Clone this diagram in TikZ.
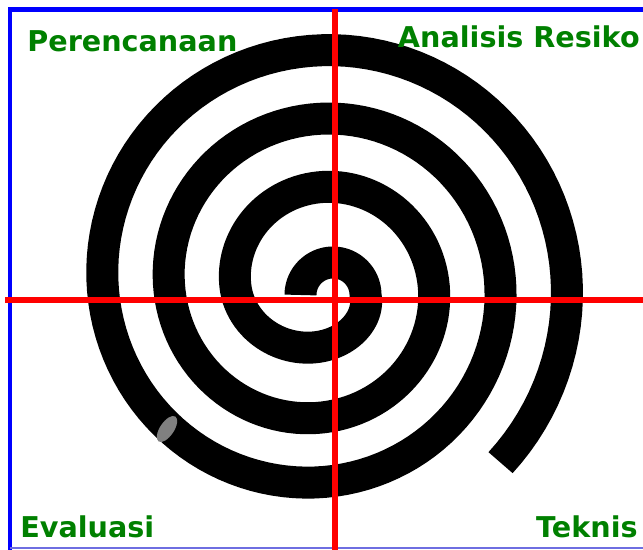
\documentclass[tikz,border=0pt]{standalone}
\usepackage{fontspec}
\setmainfont{DejaVu Sans}
\usepackage{tikz}
\usetikzlibrary{positioning}

\definecolor{labelgreen}{RGB}{0,128,0}
\definecolor{framelilac}{RGB}{110,110,225}

\begin{document}
\begin{tikzpicture}[x=0.02cm,y=-0.02cm,
    label/.style={text=labelgreen,font=\fontsize{16.3}{19}\selectfont\bfseries,inner sep=0pt},
    spiral/.style={line width=18.2pt,black},
    axis/.style={line width=3.1pt,red},
    declare function={
      spss(\t)=min(1,max(0,2*\t-1));
      spwt(\t)=1-spss(\t)*spss(\t)*(3-2*spss(\t));
      sprad(\t)=spwt(\t)*(32.5+40*max(0,\t-0.5))+(1-spwt(\t))*(16+66.5*\t);
      spcx(\t)=spwt(\t)*333+(1-spwt(\t))*318;
      spcy(\t)=spwt(\t)*295+(1-spwt(\t))*(289-2*\t);
    }]
  \useasboundingbox (0,0) rectangle (643,550);
  % spiral, one band of about 32px, pitch 66.5px
  \draw[spiral] plot[domain=0:3.625,samples=450,variable=\t]
    ({spcx(\t)+sprad(\t)*cos(180-360*\t)},{spcy(\t)-sprad(\t)*sin(180-360*\t)});
  \fill[gray,rotate around={56:(167,429)}] (167,429) ellipse (15 and 7);
  % frame
  \draw[blue,line width=2.3pt] (643,9.5) -- (10,9.5) -- (10,550);
  \draw[framelilac,line width=0.9pt] (10,548) -- (643,548);
  % quadrants
  \draw[axis] (335,9.5) -- (335,550);
  \draw[axis] (5,300) -- (643,300);
  \node[label,anchor=base west] (plan) at (27,52) {Perencanaan};
  \node[label,anchor=base east] (risk) at (640,48) {Analisis Resiko};
  \node[label,anchor=base west] (eval) at (20,538) {Evaluasi};
  \node[label,anchor=base east] (tech) at (638,538) {Teknis};
\end{tikzpicture}
\end{document}
